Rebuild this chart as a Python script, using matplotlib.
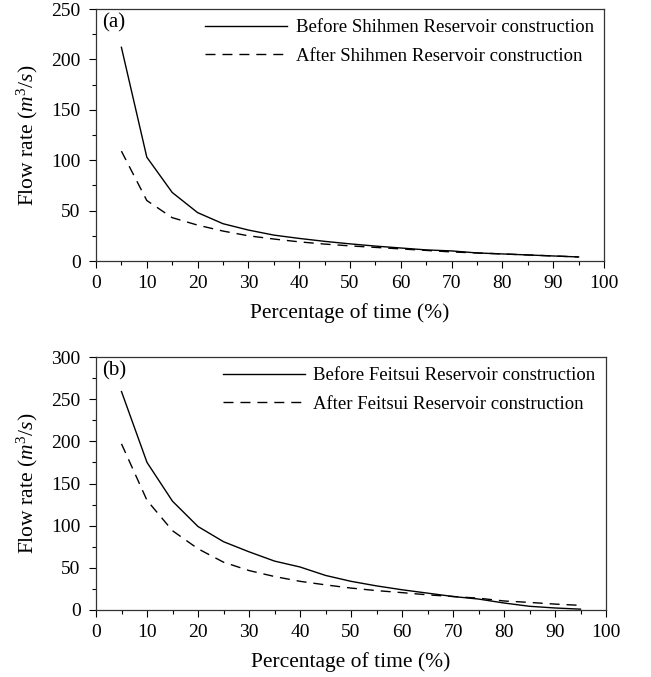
import matplotlib
matplotlib.use("Agg")
import matplotlib.pyplot as plt
from matplotlib.ticker import MultipleLocator

plt.rcParams['font.family'] = ['Liberation Serif', 'DejaVu Serif']
plt.rcParams['mathtext.fontset'] = 'custom'
plt.rcParams['mathtext.rm'] = 'Liberation Serif'
plt.rcParams['mathtext.it'] = 'Liberation Serif:italic'

pct = [5, 10, 15, 20, 25, 30, 35, 40, 45, 50, 55, 60, 65, 70, 75, 80, 85, 90, 95]

shihmen_before = [212, 103, 68, 48, 37, 30.7, 25.7, 22.4, 19.5, 17, 14.8, 12.9, 11, 10, 8, 7, 6, 5, 4]
shihmen_after = [109, 60, 43, 35.6, 29.7, 25, 21.8, 19, 16.8, 15, 13.5, 12, 10.5, 9, 8, 7, 6, 5, 4]

feitsui_before = [259, 175, 129, 99, 81, 69, 58, 51, 41, 34, 28.6, 24, 20, 16, 13, 8.3, 4.4, 2.4, 1]
feitsui_after = [197, 130, 94, 72.6, 56.7, 46.8, 39.7, 34, 29.8, 26, 23, 20.6, 18, 16, 14, 10.7, 9, 7, 5.5]

W, H = 651, 677
fig = plt.figure(figsize=(W / 100, H / 100), dpi=100)

def make_axes(left, top, right, bottom):
    return fig.add_axes([left / W, 1 - bottom / H, (right - left) / W, (bottom - top) / H])

panels = [
    (make_axes(96, 9, 604, 261), shihmen_before, shihmen_after, 'Shihmen', 250, '(a)'),
    (make_axes(96, 357, 606, 610), feitsui_before, feitsui_after, 'Feitsui', 300, '(b)'),
]

for ax, before, after, name, ymax, tag in panels:
    ax.plot(pct, before, color='black', lw=1.0, ls='-',
            label=f'Before {name} Reservoir construction')
    ax.plot(pct, after, color='black', lw=1.0, ls=(0, (7.2, 5)),
            label=f'After {name} Reservoir construction')
    ax.set_xlim(0, 100)
    ax.set_ylim(0, ymax)
    ax.xaxis.set_major_locator(MultipleLocator(10))
    ax.xaxis.set_minor_locator(MultipleLocator(5))
    ax.yaxis.set_major_locator(MultipleLocator(50))
    ax.yaxis.set_minor_locator(MultipleLocator(25))
    ax.tick_params(which='both', direction='out', top=False, right=False,
                   labelsize=14, colors='black')
    ax.tick_params(which='major', length=5, width=0.8)
    ax.tick_params(which='minor', length=3, width=0.8)
    ax.tick_params(axis='x', which='major', pad=5)
    ax.tick_params(axis='y', which='major', pad=6)
    for s in ax.spines.values():
        s.set_linewidth(0.9)
        s.set_color('#333333')
    ax.set_xlabel('Percentage of time (%)', fontsize=15.5, labelpad=8)
    ax.set_ylabel('Flow rate ($m^3/s$)', fontsize=15.5, labelpad=8)
    ax.text(0.012, 0.985, tag, transform=ax.transAxes, fontsize=15,
            va='top', ha='left')
    ax.legend(loc='upper right', frameon=False, fontsize=13.5,
              handlelength=4.4, handletextpad=0.45, labelspacing=0.6,
              borderaxespad=0.25, borderpad=0.3)

fig.savefig('out.png', dpi=100)
